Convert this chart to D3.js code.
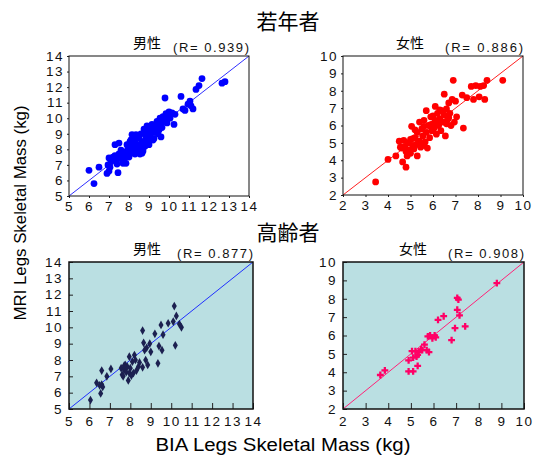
<!DOCTYPE html>
<html>
<head>
<meta charset="utf-8">
<script src="https://cdn.jsdelivr.net/npm/d3@7"></script>
<style>
  body { margin: 0; background: #fff; }
  text { font-family: "Liberation Sans", "DejaVu Sans", sans-serif; }
  .jp { font-family: "Noto Sans CJK JP", sans-serif; }
</style>
</head>
<body>
<svg id="chart" width="536" height="459"></svg>
<script>
// young men (若年者 男性)
const youngMale = [
  [6.0,6.65],[6.25,5.8],[6.5,6.85],[6.9,6.45],[7.0,6.6],[6.95,7.0],[7.0,7.45],[7.1,7.2],[7.2,7.5],[7.3,7.6],
  [7.35,7.3],[7.4,7.05],[7.45,6.5],[7.3,8.3],[7.5,8.4],[7.5,7.7],[7.6,7.4],[7.7,7.8],[7.75,7.3],[7.8,7.6],
  [7.85,7.1],[7.9,7.9],[7.95,8.2],[8.0,8.0],[8.0,7.5],[8.05,8.5],[8.1,7.75],[8.15,8.95],[8.2,8.2],[8.25,7.9],
  [8.3,8.6],[8.35,8.95],[8.4,8.3],[8.45,7.8],[8.5,8.1],[8.5,8.75],[8.55,7.7],[8.6,8.35],[8.6,9.0],[8.65,7.75],
  [8.7,8.5],[8.75,9.3],[8.8,8.2],[8.85,8.8],[8.9,9.5],[8.9,9.0],[8.95,8.55],[9.0,8.3],[9.0,9.2],[9.05,8.8],
  [9.1,9.4],[9.15,9.6],[9.2,9.1],[9.25,8.7],[9.3,9.5],[9.35,9.3],[9.4,9.8],[9.45,9.0],[9.5,9.6],[9.55,10.0],
  [9.6,8.8],[9.6,9.7],[9.65,9.4],[9.7,10.1],[9.75,9.9],[9.8,11.3],[9.85,10.3],[9.9,9.7],[9.95,10.2],[10.0,10.4],
  [10.05,10.0],[10.15,10.35],[10.25,9.6],[10.3,10.25],[10.6,11.4],[10.7,10.6],[10.8,10.5],[10.95,10.9],[11.05,11.1],[11.1,10.8],
  [11.2,10.6],[11.35,11.85],[11.5,12.1],[11.65,12.55],[12.65,12.25],[12.8,12.35],[8.4,8.85],[8.2,8.45],[7.6,7.95],[7.9,8.3],
  [8.3,7.7],[8.7,7.9],[9.2,8.6],[9.4,9.6],[8.1,8.6],[7.7,7.1],[7.05,6.85],[9.5,9.25]
];
// young women (若年者 女性)
const youngFemale = [
  [3.45,2.75],[4.0,4.05],[4.35,4.25],[4.65,3.9],[4.8,3.6],[4.85,4.25],[4.5,5.1],[4.6,4.7],[4.7,5.15],[4.75,4.8],
  [4.8,4.5],[4.9,5.0],[4.95,4.6],[5.0,5.2],[5.05,5.95],[5.1,4.85],[5.15,4.65],[5.2,5.3],[5.25,4.9],[5.3,4.25],
  [5.3,5.6],[5.35,5.05],[5.4,6.2],[5.45,4.75],[5.5,5.8],[5.55,5.4],[5.6,6.3],[5.6,4.85],[5.65,5.05],[5.7,6.85],
  [5.7,5.6],[5.75,4.7],[5.8,6.0],[5.85,5.3],[5.9,6.5],[5.95,5.7],[6.0,6.1],[6.0,6.55],[6.05,5.85],[6.1,7.1],
  [6.1,6.3],[6.15,5.5],[6.2,6.7],[6.25,6.0],[6.3,6.4],[6.35,5.7],[6.4,6.85],[6.45,6.2],[6.5,7.8],[6.5,6.6],
  [6.55,5.4],[6.6,6.95],[6.65,6.35],[6.7,7.3],[6.75,6.7],[6.8,6.0],[6.85,7.5],[6.9,8.6],[6.95,6.2],[7.0,7.4],
  [7.05,6.5],[7.3,7.75],[7.35,5.85],[7.5,7.6],[7.7,8.25],[7.8,7.5],[7.9,8.3],[8.05,7.65],[8.1,8.25],[8.25,8.3],
  [8.3,7.5],[8.4,8.6],[9.1,8.6],[5.0,4.4],[5.2,5.75],[5.4,5.1],[6.3,6.9],[6.6,6.1],[5.9,6.05],[6.2,6.15],
  [4.55,4.75],[5.1,5.25],[5.6,5.95],[6.7,6.45]
];
// elderly men (高齢者 男性)
const oldMale = [
  [6.05,5.55],[6.35,6.6],[6.5,6.45],[6.55,5.95],[6.6,6.5],[6.6,7.35],[6.65,6.35],[6.85,7.0],[7.05,7.45],[7.55,7.5],
  [7.6,7.1],[7.65,7.0],[7.7,7.4],[7.75,7.7],[7.8,7.25],[7.85,7.6],[7.9,6.75],[7.95,7.2],[7.95,8.2],[8.0,7.5],
  [8.05,7.05],[8.1,7.9],[8.15,7.2],[8.2,8.3],[8.3,7.35],[8.4,7.6],[8.45,7.85],[8.6,9.8],[8.6,7.55],[8.65,9.05],
  [8.7,8.6],[8.8,8.75],[8.85,7.7],[8.95,9.0],[9.0,8.5],[9.2,9.6],[9.35,7.8],[9.4,8.85],[9.5,10.15],[9.55,8.6],
  [9.6,9.55],[9.85,10.25],[10.1,10.35],[10.15,11.3],[10.25,10.7],[10.2,8.9],[10.4,10.2],[10.5,10.0],[8.25,8.0],[7.7,7.65],
  [8.75,8.0]
];
// elderly women (高齢者 女性)
const oldFemale = [
  [3.65,3.85],[3.85,4.1],[4.9,4.05],[5.1,4.05],[4.9,4.65],[5.05,5.15],[5.2,5.15],[5.1,4.8],[5.3,4.35],[5.3,4.95],
  [5.35,5.1],[5.45,5.25],[5.6,5.5],[5.7,5.2],[5.75,5.95],[5.8,5.1],[5.85,6.0],[5.95,5.85],[6.05,6.0],[6.1,5.9],
  [6.2,6.85],[6.45,7.05],[6.8,5.75],[6.95,6.4],[7.05,8.05],[7.1,7.95],[7.05,7.4],[7.15,7.1],[7.4,6.5],[8.8,8.85],
  [5.25,4.85],[5.5,5.2]
];

const maleTicks = [5, 6, 7, 8, 9, 10, 11, 12, 13, 14];
const femaleTicks = [2, 3, 4, 5, 6, 7, 8, 9, 10];
const maleLine = [[5, 5], [14, 14]];
const femaleLine = [[2, 2], [10, 10]];
const groupTitles = ["若年者", "高齢者"];
const sexLabels = ["男性", "女性"];
const rValues = ["0.939", "0.886", "0.877", "0.908"];

const svg = d3.select("#chart");

const panels = [
  {data: youngMale, ticks: maleTicks, line: maleLine, r: rValues[0], sex: sexLabels[0],
   x0: 69, x1: 249, y0: 56, y1: 196, bg: "#ffffff", color: "#0000ff", lineColor: "#3030ff",
   symbol: d3.symbolCircle, size: 36, inner: false, titleX: 147, rX: 173},
  {data: youngFemale, ticks: femaleTicks, line: femaleLine, r: rValues[1], sex: sexLabels[1],
   x0: 343, x1: 523, y0: 56, y1: 195, bg: "#ffffff", color: "#ff0000", lineColor: "#ff2020",
   symbol: d3.symbolCircle, size: 36, inner: false, titleX: 410, rX: 445},
  {data: oldMale, ticks: maleTicks, line: maleLine, r: rValues[2], sex: sexLabels[0],
   x0: 69, x1: 253, y0: 262, y1: 409, bg: "#badfe2", color: "#1c2050", lineColor: "#2030ff",
   symbol: d3.symbolDiamond, size: 22, inner: true, titleX: 147, rX: 177},
  {data: oldFemale, ticks: femaleTicks, line: femaleLine, r: rValues[3], sex: sexLabels[1],
   x0: 343, x1: 524, y0: 262, y1: 409, bg: "#badfe2", color: "#ff0066", lineColor: "#ff2277",
   symbol: d3.symbolCross, size: 26, inner: true, titleX: 413, rX: 448}
];

panels.forEach(p => {
  const lo = p.ticks[0], hi = p.ticks[p.ticks.length - 1];
  const x = d3.scaleLinear().domain([lo, hi]).range([p.x0, p.x1]);
  const y = d3.scaleLinear().domain([lo, hi]).range([p.y1, p.y0]);
  const g = svg.append("g");

  g.append("rect")
    .attr("x", p.x0).attr("y", p.y0)
    .attr("width", p.x1 - p.x0).attr("height", p.y1 - p.y0)
    .attr("fill", p.bg);

  // axes
  const xAxis = g.append("g")
    .attr("transform", `translate(0,${p.y1})`)
    .call(d3.axisBottom(x).tickValues(p.ticks).tickSize(p.inner ? -6 : 2).tickPadding(p.inner ? 10 : 6));
  const yAxis = g.append("g")
    .attr("transform", `translate(${p.x0},0)`)
    .call(d3.axisLeft(y).tickValues(p.ticks).tickSize(p.inner ? -4 : 2).tickPadding(p.inner ? 6 : 3));
  [xAxis, yAxis].forEach(a => {
    a.select(".domain").remove();
    a.selectAll("line").attr("stroke", "#222");
    a.selectAll("text")
      .attr("font-size", 13.5).attr("fill", "#111")
      .attr("letter-spacing", "1.5px");
  });
  xAxis.selectAll("text").attr("dy", "0.55em");

  // regression line
  g.append("path")
    .datum(p.line)
    .attr("d", d3.line().x(d => x(d[0])).y(d => y(d[1])))
    .attr("stroke", p.lineColor).attr("stroke-width", 1).attr("fill", "none");

  // points
  g.append("g").selectAll("path")
    .data(p.data)
    .join("path")
      .attr("transform", d => `translate(${x(d[0])},${y(d[1])})`)
      .attr("d", d3.symbol().type(p.symbol).size(p.size))
      .attr("fill", p.color);

  // frame
  g.append("rect")
    .attr("x", p.x0).attr("y", p.y0)
    .attr("width", p.x1 - p.x0).attr("height", p.y1 - p.y0)
    .attr("fill", "none").attr("stroke", "#111")
    .attr("stroke-width", p.inner ? 1.5 : 1);

  // panel title
  g.append("text").attr("class", "jp")
    .attr("x", p.titleX).attr("y", p.y0 - 8)
    .attr("text-anchor", "middle").attr("font-size", 14)
    .text(p.sex);
  g.append("text")
    .attr("x", p.rX).attr("y", p.y0 - 4)
    .attr("font-size", 13).attr("fill", "#111")
    .attr("textLength", p.x1 - p.rX).attr("lengthAdjust", "spacing")
    .text(`(R= ${p.r})`);
});

// group titles
svg.append("text").attr("class", "jp")
  .attr("x", 288).attr("y", 29).attr("text-anchor", "middle")
  .attr("font-size", 21).text(groupTitles[0]);
svg.append("text").attr("class", "jp")
  .attr("x", 288).attr("y", 240).attr("text-anchor", "middle")
  .attr("font-size", 21).text(groupTitles[1]);

// axis titles
svg.append("text")
  .attr("transform", "translate(26,213) rotate(-90)")
  .attr("text-anchor", "middle").attr("font-size", 17)
  .attr("textLength", 215).attr("lengthAdjust", "spacingAndGlyphs")
  .text("MRI Legs Skeletal Mass (kg)");
svg.append("text")
  .attr("x", 283).attr("y", 451)
  .attr("text-anchor", "middle").attr("font-size", 18)
  .attr("textLength", 255).attr("lengthAdjust", "spacingAndGlyphs")
  .text("BIA Legs Skeletal Mass (kg)");
</script>
</body>
</html>
